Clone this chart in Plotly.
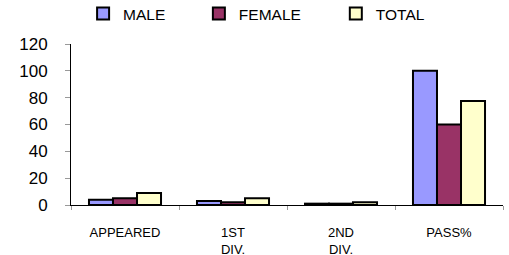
import plotly.graph_objects as go

categories = ["APPEARED", "1ST<br>DIV.", "2ND<br>DIV.", "PASS%"]
male = [4, 3, 1, 100]
female = [5, 2, 1, 60]
total = [9, 5, 2, 77.5]
y_ticks = [0, 20, 40, 60, 80, 100, 120]

series = [("MALE", male, "#9999FF", "legend", 0.028),
          ("FEMALE", female, "#993366", "legend2", 0.296),
          ("TOTAL", total, "#FFFFCC", "legend3", 0.613)]

fig = go.Figure()
legends = {}
for name, vals, color, lg, lx in series:
    fig.add_trace(go.Bar(name=name, x=categories, y=vals, legend=lg,
                         marker=dict(color=color, line=dict(color="black", width=2))))
    legends[lg] = dict(orientation="h", x=lx, xanchor="left", y=0.945, yanchor="middle",
                       yref="container", font=dict(size=15.5), itemwidth=30,
                       bgcolor="rgba(0,0,0,0)")

fig.update_layout(
    width=509, height=255,
    margin=dict(l=71, r=6, t=44, b=50, autoexpand=False),
    paper_bgcolor="white", plot_bgcolor="white",
    barmode="group", bargap=0.333, bargroupgap=0,
    font=dict(family="Liberation Sans, Arial", color="black"),
    showlegend=True,
    **legends,
)
fig.update_xaxes(showline=True, linecolor="black", linewidth=1, ticks="outside",
                 tickson="boundaries", ticklen=4, tickcolor="#999", tickfont=dict(size=13),
                 ticklabelstandoff=15, showgrid=False, automargin=False)
fig.update_yaxes(range=[0, 120], tickvals=y_ticks, showline=True, linecolor="black", linewidth=1,
                 ticks="outside", ticklen=5, tickcolor="#999", tickfont=dict(size=17),
                 ticklabelstandoff=14, showgrid=False, zeroline=False, automargin=False)

fig.write_html("out.html", config={"displayModeBar": False},
               post_script="document.body.style.margin='0';document.body.style.overflow='hidden';")
